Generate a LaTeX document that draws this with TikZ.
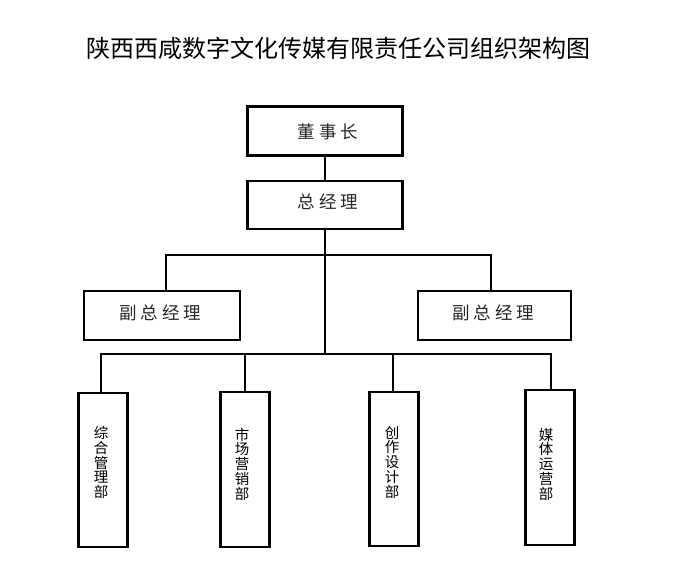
\documentclass[tikz,border=0pt]{standalone}
\usepackage{fontspec}
\newfontfamily\cjk{Noto Sans CJK SC}
\newcommand{\chsp}{\hspace{4pt}}
\begin{document}
\begin{tikzpicture}[x=1pt,y=-1pt,
  box/.style={draw=black,line width=2.2pt,rectangle,inner sep=0pt},
  conn/.style={draw=black,line width=2.2pt},
  boxtext/.style={font=\cjk\fontsize{17.5}{20}\selectfont,text=black!85,inner sep=0pt},
  depttext/.style={font=\cjk\fontsize{14.5}{14.75}\selectfont,align=center,inner sep=0pt,text=black}]
\useasboundingbox (0,0) rectangle (676,582);
\fill[white] (0,0) rectangle (676,582);
% title
\node[font=\cjk\fontsize{24}{26}\selectfont,inner sep=0pt] (title) at (338.5,48) {陕西西咸数字文化传媒有限责任公司组织架构图};
% top boxes
\node[box,minimum width=155pt,minimum height=49pt] (dsz) at (325,131) {};
\node[boxtext] (dszt) at (328,132) {董\chsp 事\chsp 长};
\node[box,minimum width=155pt,minimum height=48pt] (zjl) at (325,205) {};
\node[boxtext] (zjlt) at (328,202) {总\chsp 经\chsp 理};
% deputy boxes
\node[box,minimum width=156pt,minimum height=49pt] (fz1) at (162,315.5) {};
\node[boxtext] (fz1t) at (160.5,313) {副\chsp 总\chsp 经\chsp 理};
\node[box,minimum width=153pt,minimum height=49pt] (fz2) at (494.5,315.5) {};
\node[boxtext] (fz2t) at (493.5,313) {副\chsp 总\chsp 经\chsp 理};
% departments
\node[box,minimum width=49pt,minimum height=154pt] (d1) at (103,470) {};
\node[box,minimum width=49pt,minimum height=155pt] (d2) at (245,469.5) {};
\node[box,minimum width=49pt,minimum height=154pt] (d3) at (394,469) {};
\node[box,minimum width=49pt,minimum height=155pt] (d4) at (550,467.5) {};
\node[depttext] (d1t) at (101,462.5) {综\\合\\管\\理\\部};
\node[depttext] (d2t) at (242,464) {市\\场\\营\\销\\部};
\node[depttext] (d3t) at (392,462) {创\\作\\设\\计\\部};
\node[depttext] (d4t) at (546,464) {媒\\体\\运\\营\\部};
% connectors
\coordinate (c2) at (325,354);
\coordinate (bl) at (166,255);
\coordinate (br) at (491,255);
\coordinate (hl) at (100,354);
\coordinate (hr) at (552,354);
\coordinate (s1) at (101,354);
\coordinate (s2) at (245,354);
\coordinate (s3) at (393,354);
\coordinate (s4) at (551,354);
\draw[conn] (dsz.south) -- (zjl.north);
\draw[conn] (zjl.south) -- (c2);
\draw[conn] (bl |- fz1.north) -- (bl) -- (br) -- (br |- fz2.north);
\draw[conn] (hl) -- (hr);
\draw[conn] (s1) -- (s1 |- d1.north);
\draw[conn] (s2) -- (s2 |- d2.north);
\draw[conn] (s3) -- (s3 |- d3.north);
\draw[conn] (s4) -- (s4 |- d4.north);
\end{tikzpicture}
\end{document}
